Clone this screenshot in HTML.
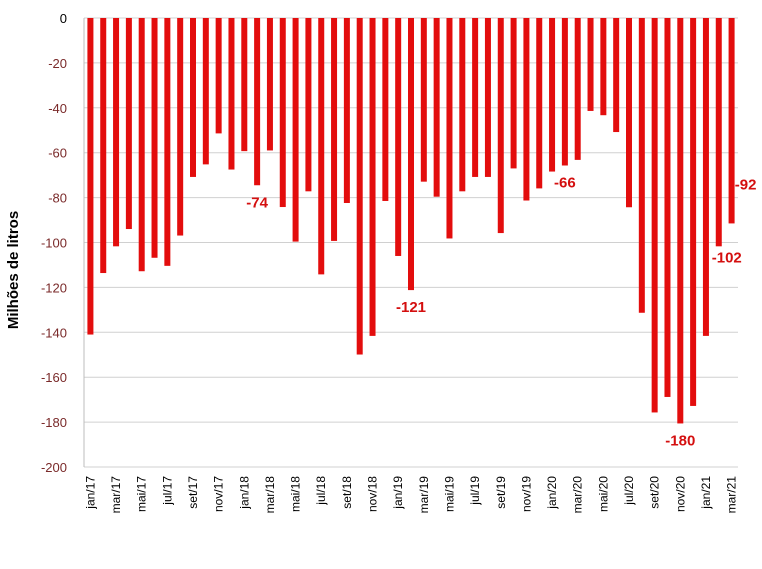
<!DOCTYPE html>
<html><head><meta charset="utf-8"><style>
html,body{margin:0;padding:0;background:#fff;}
svg{display:block;font-family:"Liberation Sans",sans-serif;}
</style></head><body>
<svg id="chart" width="762" height="569">
<text x="18" y="270" transform="rotate(-90 18 270)" text-anchor="middle" font-size="15" font-weight="bold" fill="#000">Milhões de litros</text>
<g id="grid"></g><g id="bars"></g><g id="labels"></g>
</svg>
<script>
const months=["jan","fev","mar","abr","mai","jun","jul","ago","set","out","nov","dez"];
const values=[-141,-113.6,-101.7,-94,-112.8,-106.8,-110.4,-96.9,-70.8,-65.2,-51.4,-67.5,
-59.3,-74.5,-59,-84.2,-99.6,-77.2,-114.2,-99.3,-82.4,-149.9,-141.6,-81.5,
-106,-121.2,-72.9,-79.6,-98.2,-77.2,-70.8,-70.8,-95.8,-67,-81.3,-75.9,
-68.4,-65.7,-63.2,-41.4,-43.3,-50.8,-84.3,-131.3,-175.7,-168.8,-180.6,-172.8,
-141.6,-101.7,-91.5];
const categories=values.map((v,i)=>months[i%12]+"/"+(17+Math.floor(i/12)));
const yTicks=[0,-20,-40,-60,-80,-100,-120,-140,-160,-180,-200];
const annotIdx=[13,25,37,46,49,50];
const annotText=["-74","-121","-66","-180","-102","-92"];
const annotDx=[0,0,0,0,8,14];
const annotDy=[22,22,22,22,16,-34];

const NS="http://www.w3.org/2000/svg";
const X0=84,X1=738,Y0=18,Y1=467;
const step=(X1-X0)/values.length;
const xc=i=>X0+step*(i+0.5);
const y=v=>Y0+(0-v)/200*(Y1-Y0);
function mk(t,a,p){const e=document.createElementNS(NS,t);for(const k in a)e.setAttribute(k,a[k]);p.appendChild(e);return e;}
const grid=document.getElementById('grid'),bars=document.getElementById('bars'),labels=document.getElementById('labels');
yTicks.forEach(t=>{
 const l=mk('line',{x1:X0,x2:X1,y1:y(t),y2:y(t),stroke:'#d0d0d0','stroke-width':1},grid);
 
 
 const tx=mk('text',{x:67,y:y(t)+5,'text-anchor':'end','font-size':13,fill:t===0?'#000':'#7a2a2a'},grid);
 tx.textContent=t;
 
 
});
const ax=mk('line',{x1:X0,x2:X0,y1:Y0,y2:Y1,stroke:'#bdbdbd'},grid);


values.forEach((v,i)=>{
 const r=mk('rect',{x:xc(i)-3,y:y(0),width:6,height:y(v)-y(0),fill:'#e30d0d'},bars);
 
 
 if(i%2===0){
  const lx=xc(i)+4,ly=476;
  const t=mk('text',{x:lx,y:ly,'text-anchor':'end','font-size':12,fill:'#000',transform:`rotate(-90 ${lx} ${ly})`},labels);
  t.textContent=categories[i];
  
  
 }
});
annotIdx.forEach((idx,k)=>{
 const t=mk('text',{x:xc(idx)+annotDx[k],y:y(values[idx])+annotDy[k],'text-anchor':'middle','font-size':15,'font-weight':'bold',fill:'#d40f0f'},labels);
 t.textContent=annotText[k];
 
 
});
</script>
</body></html>
